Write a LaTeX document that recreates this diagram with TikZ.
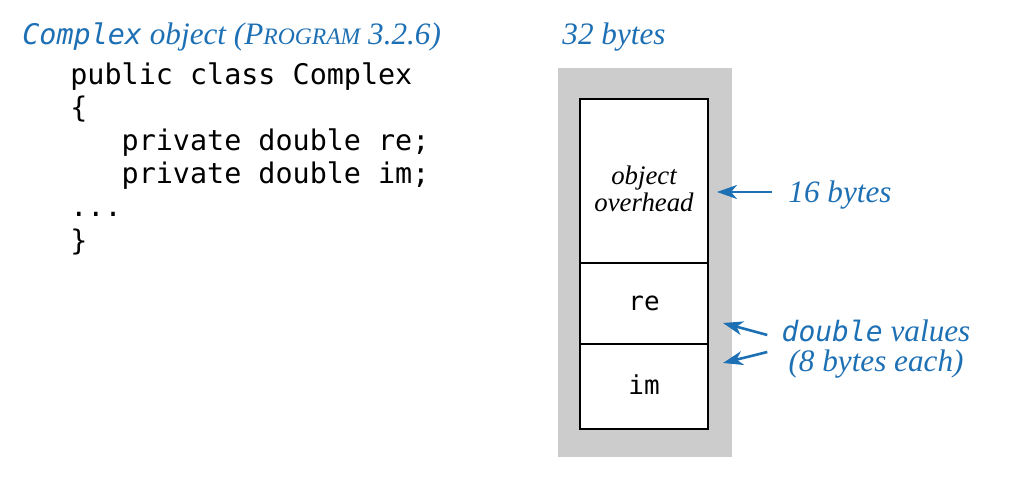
\documentclass[tikz,border=0pt]{standalone}
\usepackage{fontspec}
\usepackage{xcolor}
\setmonofont{DejaVu Sans Mono}
\newfontfamily\notefont{Liberation Serif}
\usetikzlibrary{positioning}
\usetikzlibrary{arrows.meta}
\definecolor{bookblue}{RGB}{30,112,180}

\begin{document}
\begin{tikzpicture}[x=0.5pt,y=-0.5pt,>={Stealth[length=10pt,width=7pt,inset=3pt]},
                    code/.style={inner sep=0pt,align=left,font=\fontsize{14.2}{16.6}\selectfont\ttfamily},
                    note/.style={inner sep=0pt,text=bookblue,font=\notefont\fontsize{15.6}{15}\selectfont\itshape},
                    cell/.style={draw,line width=1pt,fill=white,minimum width=64pt,outer sep=0pt,inner sep=0pt},
                    membg/.style={fill=gray!40,minimum width=87pt,minimum height=194.5pt,inner sep=0pt},
                    pointer/.style={->,bookblue,line width=1.3pt}]
      \useasboundingbox (0,0) rectangle (1024,480);

      % class declaration
      \node[note, anchor=base west] (title) at (22,45)
        {{\ttfamily\fontsize{14.2}{14}\selectfont Complex} object (P{\fontsize{11.8}{14}\selectfont ROGRAM} 3.2.6)};
      \node[code, anchor=north west] (src) at (70,62)
        {public class Complex\\
         \{\\
         \phantom{xxx}private double re;\\
         \phantom{xxx}private double im;\\
         ...\\
         \}};

      % memory layout
      \node[membg] (mem) at (645,262.5) {};
      \node[cell, minimum height=82pt,
            label={[yshift=-4pt, align=center, font=\notefont\fontsize{13.4}{13.5}\selectfont\itshape]center:object\\overhead}] (ohead) at (644,181) {};
      \node[cell, minimum height=40.5pt, font=\fontsize{13}{14}\selectfont\ttfamily] (re) [below=0pt of ohead] {re};
      \node[cell, minimum height=42.5pt, font=\fontsize{13}{14}\selectfont\ttfamily] (im) [below=0pt of re] {\raisebox{1.5pt}{im}};

      \node[note, anchor=base west] (total) at (562,45) {32 bytes};
      \node[note, anchor=base west] (sz16) at (788,203) {16 bytes};
      \node[note, align=center, inner xsep=7pt] (vals) at (876,349)
        {{\ttfamily\fontsize{14}{14}\selectfont double} values\\(8 bytes each)};

      \coordinate (oh tip) at ([xshift=4.5pt,yshift=-5.5pt]ohead.east);
      \coordinate (re tip) at ([xshift=7.5pt,yshift=10.5pt]re.south east);
      \coordinate (im tip) at ([xshift=7.5pt,yshift=-9.5pt]im.north east);

      \draw[pointer, shorten <=8pt] (oh tip -| sz16.west) -- (oh tip);
      \draw[pointer] ([yshift=7pt]vals.west) -- (re tip);
      \draw[pointer] ([yshift=-1.5pt]vals.west) -- (im tip);
\end{tikzpicture}
\end{document}
